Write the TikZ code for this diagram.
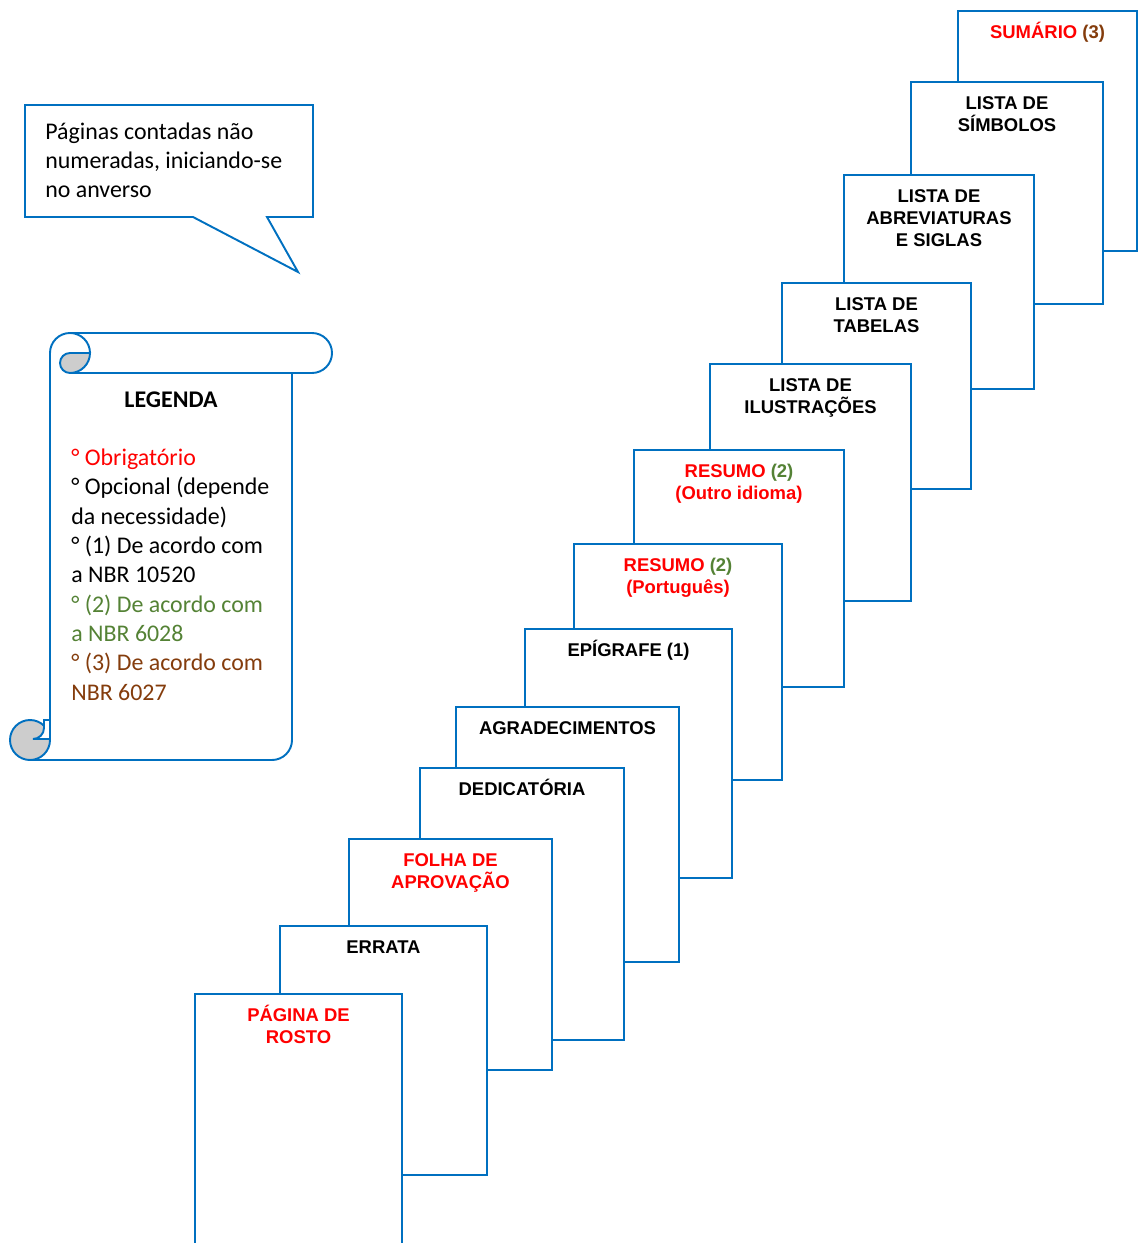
\documentclass[tikz,border=0pt]{standalone}
\usepackage{fontspec}
\setmainfont{Carlito}
\newfontfamily\arialfont{Liberation Sans}

\definecolor{azul}{RGB}{0,112,192}
\definecolor{vermelho}{RGB}{255,0,0}
\definecolor{verde}{RGB}{84,130,53}
\definecolor{marrom}{RGB}{132,60,12}
\definecolor{cinza}{RGB}{205,205,205}

\newcommand{\lbstrut}{\rule{0pt}{10pt}}
\newcommand{\txstrut}{\rule{0pt}{12pt}}

\tikzset{
  sheet/.style={draw=azul, fill=white, line width=1.1pt},
  sheetlabel/.style={font=\arialfont\bfseries\fontsize{10.5}{12.5}\selectfont,
    align=center, anchor=north, inner sep=0pt},
  contorno/.style={draw=azul, line width=1.1pt},
  texto/.style={font=\fontsize{13.6}{16.5}\selectfont, align=left,
    anchor=north west, inner sep=0pt},
}

\begin{document}
\begin{tikzpicture}[x=0.02cm,y=0.02cm]
\useasboundingbox (0,0) rectangle (1138,-1243);
\clip (0,0) rectangle (1138,-1243);

% folhas, de tras para a frente
\draw[sheet] (958,-11) rectangle (1137,-251);
\node[sheetlabel] (sumario) at (1047.5,-21) {\lbstrut\textcolor{vermelho}{SUMÁRIO} \textcolor{marrom}{(3)}};
\draw[sheet] (911,-82) rectangle (1103,-304);
\node[sheetlabel] (simbolos) at (1007,-92) {\lbstrut LISTA DE\\SÍMBOLOS};
\draw[sheet] (844,-175) rectangle (1034,-389);
\node[sheetlabel] (abreviaturas) at (939,-185) {\lbstrut LISTA DE\\ABREVIATURAS\\E SIGLAS};
\draw[sheet] (782,-283) rectangle (971,-489);
\node[sheetlabel] (tabelas) at (876.5,-293) {\lbstrut LISTA DE\\TABELAS};
\draw[sheet] (710,-364) rectangle (911,-601);
\node[sheetlabel] (ilustracoes) at (810.5,-374) {\lbstrut LISTA DE\\ILUSTRAÇÕES};
\draw[sheet] (634,-450) rectangle (844,-687);
\node[sheetlabel, text=vermelho] (resumooutro) at (739,-460) {\lbstrut RESUMO \textcolor{verde}{(2)}\\(Outro idioma)};
\draw[sheet] (574,-544) rectangle (782,-780);
\node[sheetlabel, text=vermelho] (resumopt) at (678,-554) {\lbstrut RESUMO \textcolor{verde}{(2)}\\(Português)};
\draw[sheet] (525,-629) rectangle (732,-878);
\node[sheetlabel] (epigrafe) at (628.5,-639) {\lbstrut EPÍGRAFE (1)};
\draw[sheet] (456,-707) rectangle (679,-962);
\node[sheetlabel] (agradecimentos) at (567.5,-717) {\lbstrut AGRADECIMENTOS};
\draw[sheet] (420,-768) rectangle (624,-1040);
\node[sheetlabel] (dedicatoria) at (522,-778) {\lbstrut DEDICATÓRIA};
\draw[sheet] (349,-839) rectangle (552,-1070);
\node[sheetlabel, text=vermelho] (aprovacao) at (450.5,-849) {\lbstrut FOLHA DE\\APROVAÇÃO};
\draw[sheet] (280,-926) rectangle (487,-1175);
\node[sheetlabel] (errata) at (383.5,-936) {\lbstrut ERRATA};
\draw[sheet] (195,-994) rectangle (402,-1260);
\node[sheetlabel, text=vermelho] (rosto) at (298.5,-1004) {\lbstrut PÁGINA DE\\ROSTO};

% balao
\draw[contorno] (25,-105) -- (313,-105) -- (313,-217) -- (267,-217) -- (298,-272)
  -- (193,-217) -- (25,-217) -- cycle;
\node[texto] (balao) at (45,-118) {\txstrut Páginas contadas não\\numeradas, iniciando-se\\no anverso};

% pergaminho da legenda
\draw[contorno] (50,-353) -- (50,-740);
\draw[contorno] (30,-760) -- (272,-760) arc[start angle=-90,end angle=0,radius=20] -- (292,-373);
\draw[contorno] (70,-333) -- (312,-333) arc[start angle=90,end angle=-90,radius=20] -- (70,-373);
\filldraw[contorno, fill=cinza] (90,-353) arc[start angle=0,end angle=-90,radius=20]
  arc[start angle=-90,end angle=-270,radius=10] -- cycle;
\draw[contorno] (50,-353) arc[start angle=180,end angle=0,radius=20];
\filldraw[contorno, fill=cinza] (30,-740) circle[radius=20];
\filldraw[contorno, fill=white] (44,-720) -- (50,-720) -- (50,-739) -- (33,-739)
  arc[start angle=-90,end angle=0,radius=11] -- cycle;

\node[font=\bfseries\fontsize{13.6}{16.5}\selectfont] (legenda) at (171,-400) {LEGENDA};
\node[texto, font=\fontsize{13.6}{16.7}\selectfont] (itens) at (71,-444) {\txstrut\textcolor{vermelho}{° Obrigatório}\\
  ° Opcional (depende\\
  da necessidade)\\
  ° (1) De acordo com\\
  a NBR 10520\\
  \textcolor{verde}{° (2) De acordo com}\\
  \textcolor{verde}{a NBR 6028}\\
  \textcolor{marrom}{° (3) De acordo com}\\
  \textcolor{marrom}{NBR 6027}};
\end{tikzpicture}
\end{document}
